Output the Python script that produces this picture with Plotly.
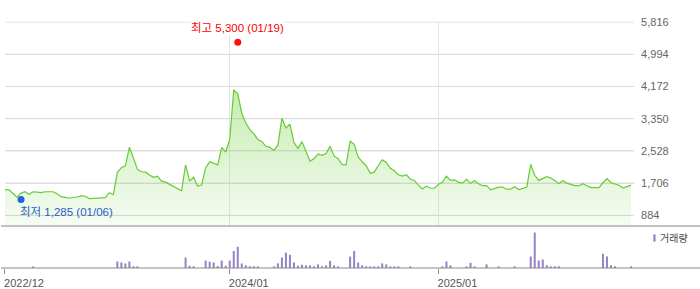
import pandas as pd
import plotly.graph_objects as go

# ---------------- data ----------------
start_date = "2022-12-09"  # first weekly point (Fridays)

price = [
    1540, 1535, 1440, 1345, 1450, 1485, 1420, 1485, 1475, 1465,
    1485, 1485, 1485, 1435, 1360, 1340, 1320, 1345, 1345, 1385,
    1370, 1310, 1315, 1335, 1340, 1335, 1460, 1410, 1980, 2100,
    2145, 2620, 2350, 2055, 1995, 1985, 1915, 1855, 1885, 1755,
    1730, 1680, 1620, 1570, 1510, 2170, 1755, 1855, 1630, 1655,
    2100, 2250, 2215, 2170, 2620, 2500, 2820, 4085, 3985, 3490,
    3240, 3070, 2970, 2820, 2770, 2645, 2620, 2540, 2680, 3365,
    3115, 3210, 2745, 2595, 2765, 2540, 2270, 2330, 2450, 2415,
    2460, 2645, 2400, 2330, 2185, 2170, 2780, 2695, 2375, 2250,
    2150, 1955, 1985, 2150, 2300, 2235, 2085, 2020, 1920, 1885,
    1920, 1805, 1775, 1655, 1555, 1625, 1575, 1575, 1675, 1725,
    1880, 1775, 1790, 1725, 1705, 1800, 1700, 1765, 1690, 1640,
    1640, 1535, 1575, 1605, 1605, 1550, 1550, 1615, 1540, 1575,
    1600, 2185, 1905, 1775, 1820, 1870, 1835, 1775, 1690, 1765,
    1705, 1675, 1640, 1640, 1690, 1640, 1590, 1590, 1590, 1715,
    1820, 1715, 1675, 1650, 1580, 1615, 1655,
]

# weekly volume (thousand shares)
volume = [
    0, 0, 0, 0, 0, 0, 0, 130, 0, 0,
    0, 0, 0, 0, 0, 0, 0, 0, 0, 0,
    0, 0, 0, 0, 0, 0, 0, 0, 670, 570,
    470, 670, 170, 170, 0, 0, 0, 0, 0, 0,
    0, 0, 0, 0, 0, 1070, 230, 170, 0, 0,
    770, 630, 570, 200, 770, 230, 770, 1730, 2170, 470,
    270, 170, 170, 170, 0, 0, 0, 170, 470, 1070,
    1570, 1370, 570, 230, 330, 270, 270, 170, 370, 170,
    270, 730, 270, 170, 0, 0, 1170, 1730, 570, 270,
    170, 170, 170, 170, 470, 370, 170, 170, 170, 0,
    0, 170, 0, 0, 0, 0, 0, 0, 0, 170,
    670, 270, 0, 0, 0, 170, 530, 170, 0, 0,
    370, 0, 0, 170, 0, 0, 0, 170, 0, 0,
    0, 1170, 3630, 770, 870, 270, 170, 170, 170, 0,
    0, 0, 0, 0, 0, 0, 0, 0, 0, 1470,
    1170, 270, 170, 0, 0, 0, 170,
]

tick_dates = ["2022-12-09", "2024-01-05", "2025-01-03"]
tick_labels = ["2022/12", "2024/01", "2025/01"]
price_ticks = [884, 1706, 2528, 3350, 4172, 4994, 5816]

high_date, high_value, high_label = "2024-01-19", 5300, "최고 5,300 (01/19)"
low_date, low_value, low_label = "2023-01-06", 1285, "최저 1,285 (01/06)"
volume_name = "거래량"

# ---------------- layout helpers ----------------
W, H = 700, 289
def px_x(p):
    return p / W
def px_y(p):
    return 1 - p / H

dates = pd.date_range(start_date, periods=len(price), freq="7D")
x_range = [dates[0], dates[0] + pd.Timedelta(days=1097.3)]
y_range = [597.55, 5828.45]   # puts every price gridline on a pixel centre

FONT = "Liberation Sans, Noto Sans CJK KR, sans-serif"
LINE_C = "#66cc33"
VOL_C = "#9683c6"
GRID_C = "#dcdcdc"

fig = go.Figure()

fig.add_trace(go.Scatter(
    x=dates, y=price, xaxis="x", yaxis="y", mode="lines",
    line=dict(color=LINE_C, width=1.2),
    fill="tozeroy",
    fillgradient=dict(type="vertical",
                      colorscale=[[0, "rgba(120,210,70,0.05)"],
                                  [1, "rgba(120,210,70,0.42)"]],
                      start=y_range[0], stop=4100),
    hoverinfo="skip",
))
fig.add_trace(go.Scatter(
    x=[high_date], y=[high_value], xaxis="x", yaxis="y", mode="markers",
    marker=dict(color="#ff1010", size=7), hoverinfo="skip",
))
fig.add_trace(go.Scatter(
    x=[low_date], y=[low_value], xaxis="x", yaxis="y", mode="markers",
    marker=dict(color="#1a66d8", size=7), hoverinfo="skip",
))
fig.add_trace(go.Bar(
    x=dates, y=volume, xaxis="x2", yaxis="y2",
    marker=dict(color=VOL_C, line=dict(width=0)), hoverinfo="skip",
))

grid_shapes = [
    dict(type="line", xref="paper", yref="y", layer="below",
         x0=px_x(4), x1=px_x(634), y0=v, y1=v,
         line=dict(color=GRID_C, width=1))
    for v in price_ticks
]

fig.update_layout(
    width=W, height=H,
    margin=dict(l=0, r=0, t=0, b=0),
    paper_bgcolor="white", plot_bgcolor="white",
    showlegend=False, bargap=0.5,
    font=dict(family=FONT, size=11, color="#666"),
    xaxis=dict(
        domain=[px_x(4), px_x(634)], range=x_range, type="date",
        tickvals=tick_dates, showticklabels=False, ticks="",
        showgrid=True, gridcolor="#e4e4e4", gridwidth=1,
        zeroline=False, showline=False, anchor="y",
    ),
    yaxis=dict(
        domain=[px_y(226), px_y(16)], range=y_range, side="right",
        tickvals=price_ticks, tickformat=",d", ticks="",
        ticklabelstandoff=6,
        tickfont=dict(size=11, color="#666"),
        showgrid=True, gridcolor=GRID_C, gridwidth=1,
        zeroline=False, showline=False, anchor="x",
    ),
    xaxis2=dict(
        domain=[px_x(4), px_x(634)], matches="x", type="date",
        tickvals=tick_dates, ticktext=tick_labels,
        ticks="outside", ticklen=5, tickcolor="#888", tickwidth=1,
        ticklabelshift=19,
        tickfont=dict(size=11, color="#555"),
        showgrid=False, zeroline=False, showline=False, anchor="y2",
    ),
    yaxis2=dict(
        domain=[px_y(268.5), px_y(226)], range=[0, 4250],
        showticklabels=False, showgrid=False, zeroline=False,
        showline=False, ticks="", anchor="x2",
    ),
    shapes=grid_shapes + [
        dict(type="line", xref="paper", yref="paper", x0=0, x1=1,
             y0=px_y(225.5), y1=px_y(225.5), line=dict(color="#888", width=1)),
        dict(type="line", xref="paper", yref="paper", x0=0, x1=1,
             y0=px_y(268.5), y1=px_y(268.5), line=dict(color="#888", width=1)),
        dict(type="rect", xref="paper", yref="paper",
             x0=px_x(653.3), x1=px_x(655.5), y0=px_y(241.5), y1=px_y(234),
             fillcolor=VOL_C, line=dict(width=0)),
    ],
    annotations=[
        dict(x=high_date, y=high_value, xref="x", yref="y", text=high_label,
             showarrow=False, xanchor="center", yanchor="middle", yshift=14,
             font=dict(color="#ff0000", size=11.5, family=FONT),
             bgcolor="white", borderpad=0),
        dict(x=low_date, y=low_value, xref="x", yref="y", text=low_label,
             showarrow=False, xanchor="left", yanchor="middle",
             xshift=-3, yshift=-12.5,
             font=dict(color="#1f5fc8", size=11.5, family=FONT)),
        dict(x=px_x(658), y=px_y(238), xref="paper", yref="paper",
             text=volume_name, showarrow=False, xanchor="left",
             yanchor="middle", font=dict(color="#444", size=10, family=FONT)),
    ],
)

fig.write_html("out.html")
